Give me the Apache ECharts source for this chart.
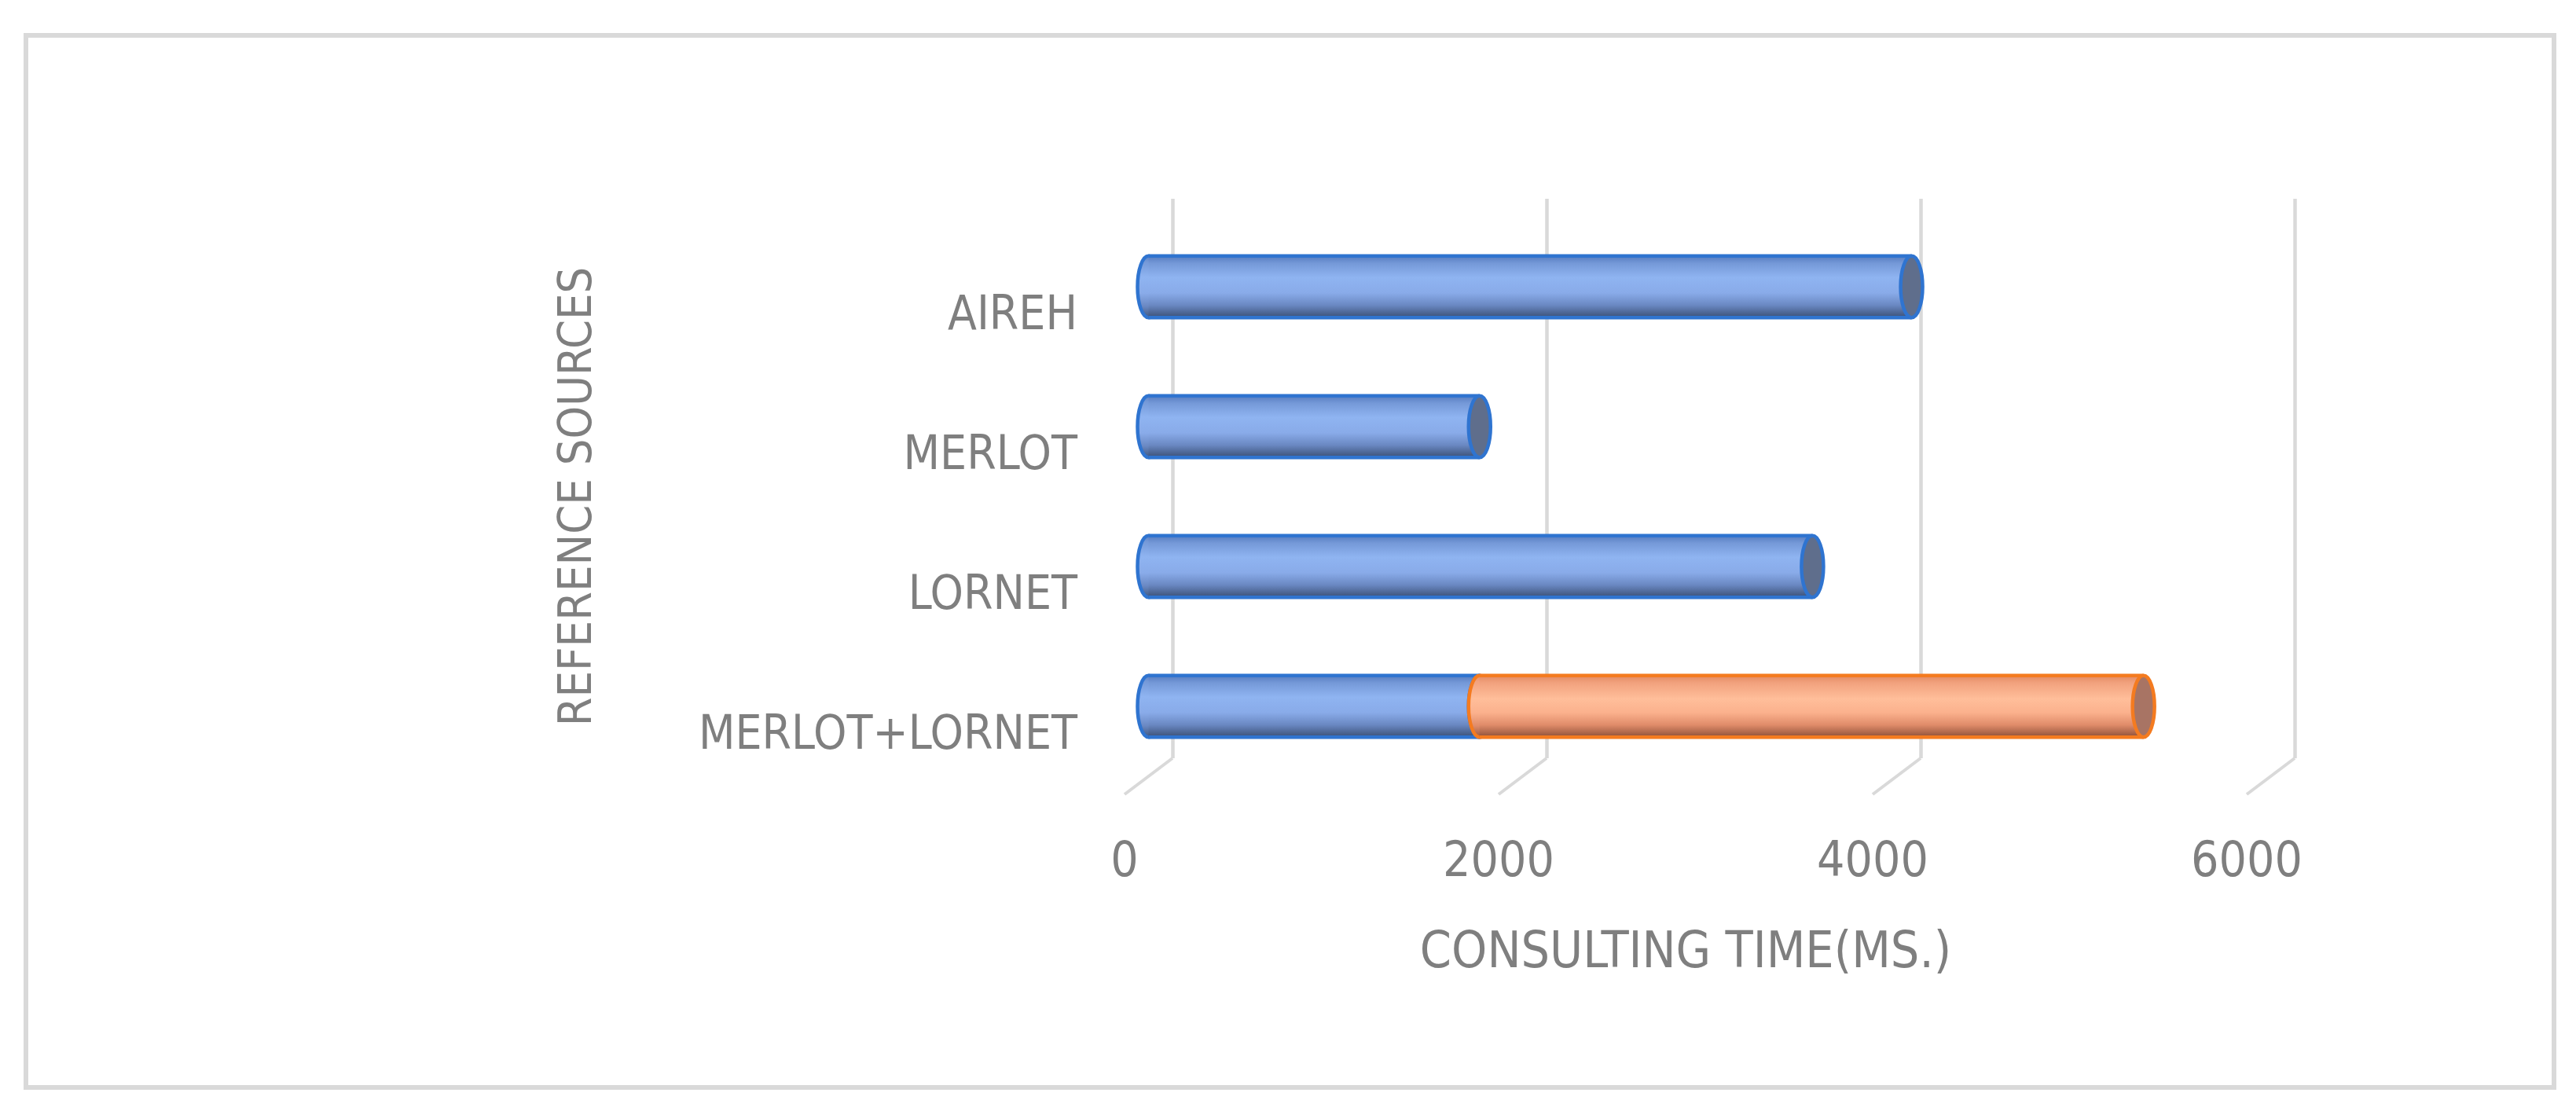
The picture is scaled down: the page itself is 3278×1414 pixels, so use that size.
<!DOCTYPE html>
<html>
<head>
<meta charset="utf-8">
<title>Consulting time by reference source</title>
<script src="https://cdn.jsdelivr.net/npm/echarts@6/dist/echarts.min.js"></script>
<style>
    html, body { margin: 0; padding: 0; background: #fff; }
    #chart { width: 3278px; height: 1414px; }
</style>
</head>
<body>
<div id="chart"></div>
<script>
// values (ms)
const categories = ['AIREH', 'MERLOT', 'LORNET', 'MERLOT+LORNET'];
const series1Values = [4080, 1770, 3550, 1770];   // blue part
const series2Values = [0, 0, 0, 3550];            // orange part, stacked on the blue one
const xTicks = [0, 2000, 4000, 6000];
const xMax = 6000;
const xStep = 2000;

const FONT = '"Liberation Sans Narrow", "DejaVu Sans Condensed", "Liberation Sans", sans-serif';
const TEXT_COLOR = '#7f7f7f';
const GRID_COLOR = '#d9d9d9';
// offset of the front plane against the back wall (fake 3D depth)
const DEPTH = [61, 46];

function blueBody() {
    return new echarts.graphic.LinearGradient(0, 0, 0, 1, [
        { offset: 0, color: '#567cc0' },
        { offset: 0.12, color: '#7599d8' },
        { offset: 0.35, color: '#8fb4f1' },
        { offset: 0.6, color: '#89abe9' },
        { offset: 0.8, color: '#6a88c2' },
        { offset: 0.93, color: '#4b6491' },
        { offset: 1, color: '#3c5078' }
    ]);
}

function orangeBody() {
    return new echarts.graphic.LinearGradient(0, 0, 0, 1, [
        { offset: 0, color: '#e28a62' },
        { offset: 0.12, color: '#f2a27e' },
        { offset: 0.38, color: '#ffbe9a' },
        { offset: 0.6, color: '#fbb18d' },
        { offset: 0.8, color: '#e08c6a' },
        { offset: 0.93, color: '#ac664a' },
        { offset: 1, color: '#8c5038' }
    ]);
}

// draws one horizontal cylinder from value(0) to value(1) on category value(2)
function makeCylinder(bodyFn, capColor, edgeColor) {
    return function (params, api) {
        const cat = api.value(2);
        const a = api.coord([api.value(0), cat]);
        const b = api.coord([api.value(1), cat]);
        const h = api.size([0, 1])[1] * 0.44;
        const top = a[1] - h / 2;
        const rx = 14;
        const edge = { stroke: edgeColor, lineWidth: 4.5 };
        return {
            type: 'group',
            children: [
                {
                    type: 'ellipse',
                    shape: { cx: a[0], cy: a[1], rx: rx, ry: h / 2 },
                    style: Object.assign({ fill: bodyFn() }, edge)
                },
                {
                    type: 'rect',
                    shape: { x: a[0], y: top, width: b[0] - a[0], height: h },
                    style: { fill: bodyFn() }
                },
                {
                    type: 'line',
                    shape: { x1: a[0], y1: top, x2: b[0], y2: top },
                    style: edge
                },
                {
                    type: 'line',
                    shape: { x1: a[0], y1: top + h, x2: b[0], y2: top + h },
                    style: edge
                },
                {
                    type: 'ellipse',
                    shape: { cx: b[0], cy: b[1], rx: rx, ry: h / 2 },
                    style: Object.assign({ fill: capColor }, edge)
                }
            ]
        };
    };
}

// floor lines running from the back wall towards the tick labels
function renderFloor(params, api) {
    const x = api.coord([api.value(0), 0])[0];
    const bottom = params.coordSys.y + params.coordSys.height;
    return {
        type: 'line',
        shape: { x1: x, y1: bottom, x2: x - DEPTH[0], y2: bottom + DEPTH[1] },
        style: { stroke: GRID_COLOR, lineWidth: 4 }
    };
}

const blueData = categories.map((c, i) => [0, series1Values[i], i]);
const orangeData = [];
categories.forEach((c, i) => {
    if (series2Values[i] > 0) {
        orangeData.push([series1Values[i], series1Values[i] + series2Values[i], i]);
    }
});

function valueAxis(gridIndex) {
    return {
        type: 'value',
        gridIndex: gridIndex,
        min: 0,
        max: xMax,
        interval: xStep,
        axisLine: { show: false },
        axisTick: { show: false },
        axisLabel: { show: false },
        splitLine: { show: false }
    };
}

function categoryAxis(gridIndex) {
    return {
        type: 'category',
        gridIndex: gridIndex,
        data: categories,
        inverse: true,
        axisLine: { show: false },
        axisTick: { show: false },
        axisLabel: { show: false },
        splitLine: { show: false }
    };
}

const chart = echarts.init(document.getElementById('chart'));

const backX = valueAxis(0);
backX.splitLine = { show: true, lineStyle: { color: GRID_COLOR, width: 4.5 } };

const frontX = valueAxis(2);
frontX.axisLabel = {
    show: true,
    margin: 57,
    fontSize: 62,
    color: TEXT_COLOR,
    fontFamily: FONT,
    formatter: v => String(v)
};
frontX.name = 'CONSULTING TIME(MS.)';
frontX.nameLocation = 'middle';
frontX.nameGap = 171;
frontX.nameTextStyle = { fontSize: 64, color: TEXT_COLOR, fontFamily: FONT };

const barY = categoryAxis(1);
barY.name = 'REFERENCE SOURCES';
barY.nameLocation = 'middle';
barY.nameGap = 695;
barY.nameTextStyle = { fontSize: 59, color: TEXT_COLOR, fontFamily: FONT };

const frontY = categoryAxis(2);
frontY.axisLabel = {
    show: true,
    margin: 60,
    fontSize: 60,
    color: TEXT_COLOR,
    fontFamily: FONT,
    verticalAlign: 'top',
    lineHeight: 30
};

const option = {
    animation: false,
    backgroundColor: '#fff',
    textStyle: { fontFamily: FONT },
    graphic: [{
        type: 'rect',
        z: -10,
        shape: { x: 33, y: 45, width: 3217, height: 1339 },
        style: { fill: '#fff', stroke: GRID_COLOR, lineWidth: 6 }
    }],
    grid: [
        { left: 1492, top: 253, width: 1428, height: 712 },                          // back wall
        { left: 1492 - DEPTH[0] / 2, top: 253 + DEPTH[1] / 2, width: 1428, height: 712 }, // bars
        { left: 1492 - DEPTH[0], top: 253 + DEPTH[1], width: 1428, height: 712 }      // front labels
    ],
    xAxis: [backX, valueAxis(1), frontX],
    yAxis: [categoryAxis(0), barY, frontY],
    series: [
        {
            name: 'Floor',
            type: 'custom',
            xAxisIndex: 0,
            yAxisIndex: 0,
            renderItem: renderFloor,
            data: xTicks.map(v => [v, 0]),
            encode: { x: 0, y: 1 },
            silent: true,
            z: 1
        },
        {
            name: 'Series1',
            type: 'custom',
            xAxisIndex: 1,
            yAxisIndex: 1,
            renderItem: makeCylinder(blueBody, '#5f6e8c', '#2f74d0'),
            data: blueData,
            encode: { x: [0, 1], y: 2 },
            z: 3
        },
        {
            name: 'Series2',
            type: 'custom',
            xAxisIndex: 1,
            yAxisIndex: 1,
            renderItem: makeCylinder(orangeBody, '#a87464', '#f47b20'),
            data: orangeData,
            encode: { x: [0, 1], y: 2 },
            z: 4
        }
    ]
};

chart.setOption(option);
</script>
</body>
</html>
